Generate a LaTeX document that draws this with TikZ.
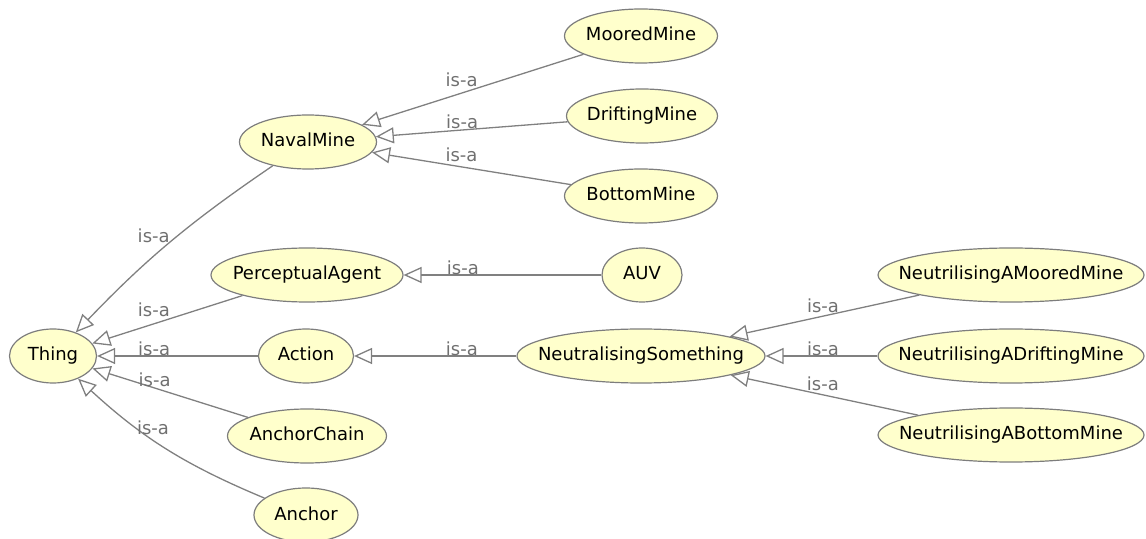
\documentclass[tikz,border=0pt]{standalone}
\usepackage{fontspec}
\setmainfont{DejaVu Sans}
\usetikzlibrary{shapes.geometric,arrows.meta}

\definecolor{clsfill}{RGB}{255,255,204}
\definecolor{clsline}{RGB}{125,125,125}
\definecolor{edgegray}{RGB}{128,128,128}
\definecolor{lblgray}{RGB}{112,112,112}

\begin{document}
\begin{tikzpicture}[x = 0.5pt, y = -0.5pt, line width = 0.65pt,
  cls/.style = {ellipse, draw = clsline, fill = clsfill, line width = 0.6pt,
    inner sep = 0pt, minimum height = 27pt, text height = 7pt, text depth = 2pt,
    font = \fontsize{9}{10}\selectfont,
    execute at begin node = \hbox to 0pt\bgroup\hss,
    execute at end node = \hss\egroup},
  isa/.style = {draw = edgegray, -{Triangle[open, length = 9pt, width = 8pt]}},
  lbl/.style = {inner sep = 0pt, text = lblgray, font = \fontsize{9}{10}\selectfont}]
\useasboundingbox (0,0) rectangle (1146,539);
% classes
\draw (53,356) node[cls, minimum width = 43.5pt](th){Thing}
    (308,142) node[cls, minimum width = 68.5pt](nv){NavalMine}
    (307,275) node[cls, minimum width = 96pt](pa){PerceptualAgent}
    (306,356) node[cls, minimum width = 47.5pt](ac){Action}
    (307,436) node[cls, minimum width = 79.5pt](ch){AnchorChain}
    (306,515) node[cls, minimum width = 52pt](an){Anchor}
    (641,36) node[cls, minimum width = 76.5pt](mo){MooredMine}
    (642,116) node[cls, minimum width = 75.5pt](dr){DriftingMine}
    (641,196) node[cls, minimum width = 76.5pt](bo){BottomMine}
    (642,275) node[cls, minimum width = 40pt](auv){AUV}
    (641,356) node[cls, minimum width = 124pt](ns){NeutralisingSomething}
    (1011,275) node[cls, minimum width = 133pt](nmo){NeutrilisingAMooredMine}
    (1011,356) node[cls, minimum width = 133pt](ndr){NeutrilisingADriftingMine}
    (1011,435) node[cls, minimum width = 133pt](nbo){NeutrilisingABottomMine};
% is-a edges
\draw [isa] (mo) -- (nv) node[lbl, pos = .55, above = 3pt] {is-a};
\draw [isa] (dr) -- (nv) node[lbl, pos = .55, above = .5pt] {is-a};
\draw [isa] (bo) -- (nv) node[lbl, pos = .55, above = 2pt] {is-a};
\draw [isa] (nv) to[bend right = 6] node[lbl, pos = .45, left = 4pt] {is-a} (th);
\draw [isa] (pa) -- (th) node[lbl, pos = .59, above = 3pt] {is-a};
\draw [isa] (ac) -- (th) node[lbl, pos = .645, above = 0pt] {is-a};
\draw [isa] (ch) -- (th) node[lbl, pos = .6, above = .5pt] {is-a};
\draw [isa] (an) to[bend left = 10] node[lbl, pos = .67, right = 0pt] {is-a} (th);
\draw [isa] (auv) -- (pa) node[lbl, pos = .7, above = 0pt] {is-a};
\draw [isa] (ns) -- (ac) node[lbl, pos = .336, above = 0pt] {is-a};
\draw [isa] (nmo) -- (ns) node[lbl, pos = .508, above = 1.2pt] {is-a};
\draw [isa] (ndr) -- (ns) node[lbl, pos = .487, above = 0pt] {is-a};
\draw [isa] (nbo) -- (ns) node[lbl, pos = .508, above = 1.5pt] {is-a};
\end{tikzpicture}
\end{document}
